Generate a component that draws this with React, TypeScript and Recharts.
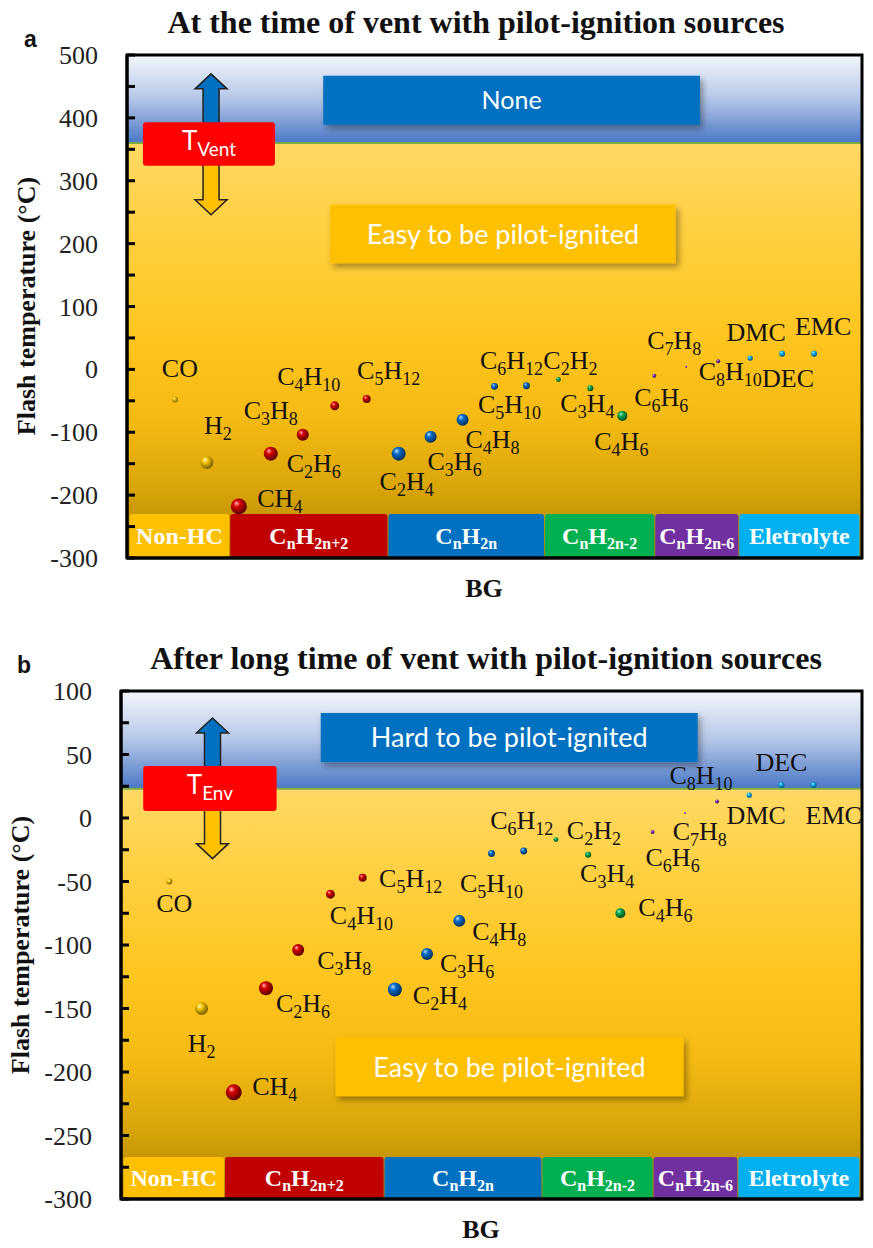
import React from "react";
import {
  ScatterChart,
  Scatter,
  XAxis,
  YAxis,
  ZAxis,
  CartesianGrid,
  ReferenceArea,
} from "recharts";

// battery gases along the BG axis, in plotting order
const species = ["CO", "H2", "CH4", "C2H6", "C3H8", "C4H10", "C5H12", "C2H4", "C3H6", "C4H8", "C5H10", "C6H12", "C2H2", "C3H4", "C4H6", "C6H6", "C7H8", "C8H10", "DMC", "DEC", "EMC"];
const family = ["nonhc", "nonhc", "alkane", "alkane", "alkane", "alkane", "alkane", "alkene", "alkene", "alkene", "alkene", "alkene", "alkyne", "alkyne", "alkyne", "arom", "arom", "arom", "elec", "elec", "elec"];

// flash temperature (°C)
const flashVent = [-48, -148, -218, -134, -104, -58, -47, -134, -107, -80, -27, -26, -16, -30, -74, -10, 4, 13, 18, 25, 25];
const flashLong = [-50, -150, -216, -134, -104, -60, -47, -135, -107, -81, -28, -26, -17, -29, -75, -11, 4, 13, 18, 26, 26];

// bubble size (roughly squared radius)
const bubble = [9, 42, 64, 49, 36, 20, 16, 49, 36, 36, 12, 12, 6, 9, 25, 4, 1, 4, 7, 9, 9];

// family bands under the points
const familyKeys = ["nonhc", "alkane", "alkene", "alkyne", "arom", "elec"];
const familyNames = ["Non-HC", "C{n}H{2n+2}", "C{n}H{2n}", "C{n}H{2n-2}", "C{n}H{2n-6}", "Eletrolyte"];
const familyEdges = [-1.45, 1.7, 6.65, 11.55, 15.0, 17.63, 21.42];

const SERIF = "'Liberation Serif', 'Times New Roman', serif";
const SANS = "Lato, 'Open Sans', sans-serif";
const TICK_GAP = 29;

const famColor: Record<string, string> = {
  nonhc: "#ffc000",
  alkane: "#c00000",
  alkene: "#0070c0",
  alkyne: "#00b050",
  arom: "#7030a0",
  elec: "#00b0f0",
};
const ballStops: Record<string, string[]> = {
  nonhc: ["#fffbe0", "#f2c400", "#7a5a00"],
  alkane: ["#ffb0b0", "#d40000", "#5a0000"],
  alkene: ["#b8dcff", "#0a6cc8", "#00305e"],
  alkyne: ["#b0f5cc", "#00a850", "#004d1e"],
  arom: ["#dcb8ff", "#7a35b0", "#2e0f4e"],
  elec: ["#c8f2ff", "#12b2f0", "#005a80"],
};

const panels = [
  {
    id: "pa",
    top: 0,
    plotTop: 55,
    xAxisH: 66,
    yAxisW: 127,
    right: 11,
    yDomain: [-300, 500],
    tickStep: 50,
    labelStep: 100,
    boundary: 360,
    barTop: -230,
    flash: flashVent,
    boxes: [
      { x1: 4.64, x2: 16.43, y1: 389, y2: 467, fill: "#0070c0", text: "None", size: 25 },
      { x1: 4.86, x2: 15.67, y1: 169, y2: 262, fill: "#ffc000", text: "Easy to be pilot-ignited", size: 27 },
    ],
    arrow: { x: 1.13, top: 470, bottom: 246 },
    tBox: { x1: -1.0, x2: 3.13, y1: 324, y2: 393, text: "T{Vent}" },
    labelAt: {
      CO: [5, -23], H2: [11, -28], CH4: [41, 1], C2H6: [43, 18], C3H8: [-32, -16], C4H10: [-26, -21],
      C5H12: [22, -20], C2H4: [8, 36], C3H6: [24, 33], C4H8: [30, 28], C5H10: [15, 27], C6H12: [-15, -17],
      C2H2: [12, -10], C3H4: [-3, 24], C4H6: [-1, 34], C6H6: [7, 30], C7H8: [-12, -18], C8H10: [12, 19],
      DMC: [6, -17], DEC: [6, 33], EMC: [9, -19],
    } as Record<string, number[]>,
  },
  {
    id: "pb",
    top: 624,
    plotTop: 67,
    xAxisH: 49,
    yAxisW: 121,
    right: 11,
    yDomain: [-300, 100],
    tickStep: 25,
    labelStep: 50,
    boundary: 23,
    barTop: -267,
    flash: flashLong,
    boxes: [
      { x1: 4.7, x2: 16.4, y1: 44, y2: 82.7, fill: "#0070c0", text: "Hard to be pilot-ignited", size: 27 },
      { x1: 5.16, x2: 15.96, y1: -219, y2: -173, fill: "#ffc000", text: "Easy to be pilot-ignited", size: 27 },
    ],
    arrow: { x: 1.34, top: 78.7, bottom: -32 },
    tBox: { x1: -0.81, x2: 3.33, y1: 5.5, y2: 41, text: "T{Env}" },
    labelAt: {
      CO: [5, 30], H2: [0, 43], CH4: [41, 3], C2H6: [37, 24], C3H8: [46, 19], C4H10: [31, 30],
      C5H12: [48, 9], C2H4: [45, 15], C3H6: [40, 18], C4H8: [40, 19], C5H10: [0, 38], C6H12: [-2, -22],
      C2H2: [38, -1], C3H4: [19, 27], C4H6: [45, 3], C6H6: [20, 34], C7H8: [15, 27], C8H10: [-16, -17],
      DMC: [7, 29], DEC: [0, -14], EMC: [20, 39],
    } as Record<string, number[]>,
  },
];

// "C{2}H{6}" -> tspans with subscripts
function formula(src: string, size: number, subSize: number, shift: number) {
  const parts = src.split(/(\{[^}]*\})/).filter((s) => s.length > 0);
  let low = false;
  return parts.map((part, i) => {
    const sub = part[0] === "{";
    let dy = 0;
    if (sub && !low) {
      dy = shift;
      low = true;
    } else if (!sub && low) {
      dy = -shift;
      low = false;
    }
    return (
      <tspan key={i} dy={dy} fontSize={sub ? subSize : size}>
        {sub ? part.slice(1, -1) : part}
      </tspan>
    );
  });
}

const chem = (name: string) => name.replace(/(\d+)/g, "{$1}");

function Panel({ cfg }: { cfg: any }) {
  const [yMin, yMax] = cfg.yDomain;
  const f = (yMax - cfg.boundary) / (yMax - yMin);
  const ticks: number[] = [];
  for (let v = yMin; v <= yMax; v += cfg.tickStep) ticks.push(v);

  const rows = species.map((name, i) => ({ x: i, y: cfg.flash[i], z: bubble[i], name, fam: family[i] }));

  const tick = (props: any) => {
    const { x, y, payload } = props;
    const v = payload.value;
    const ax = x + TICK_GAP;
    return (
      <g>
        <line x1={ax} x2={ax + 8} y1={y} y2={y} stroke="#000" strokeWidth={3} />
        {v % cfg.labelStep === 0 ? (
          <text x={x} y={y + 9} textAnchor="end" fontFamily={SERIF} fontSize={26} fill="#222">
            {v}
          </text>
        ) : null}
      </g>
    );
  };

  const ball = (fam: string) => (props: any) => {
    const { cx, cy, size, payload } = props;
    if (cx == null || cy == null) return <g />;
    const area = typeof size === "number" && size > 0 ? size : payload.z * Math.PI;
    const r = Math.max(1, Math.sqrt(area / Math.PI));
    const [dx, dy] = cfg.labelAt[payload.name] || [0, -14];
    return (
      <g>
        <circle cx={cx} cy={cy} r={r} fill={`url(#${cfg.id}-ball-${fam})`} />
        <text x={cx + dx} y={cy + dy} textAnchor="middle" fontFamily={SERIF} fontSize={26} fill="#111">
          {formula(chem(payload.name), 26, 18, 6)}
        </text>
      </g>
    );
  };

  // blue band: only the green edge along its bottom is drawn
  const bandEdge = (p: any) => (
    <line x1={p.x} x2={p.x + p.width} y1={p.y + p.height} y2={p.y + p.height} stroke="#7dab4a" strokeWidth={2} />
  );

  const textBox = (box: any) => (p: any) => (
    <g>
      <rect x={p.x} y={p.y} width={p.width} height={p.height} fill={box.fill} filter={`url(#${cfg.id}-shadow)`} />
      <text x={p.x + p.width / 2} y={p.y + p.height / 2 + box.size * 0.36} textAnchor="middle" fontFamily={SANS} fontSize={box.size} fill="#fff">
        {box.text}
      </text>
    </g>
  );

  const tBox = (p: any) => (
    <g>
      <rect x={p.x} y={p.y} width={p.width} height={p.height} rx={3} fill="#ff0000" />
      <text x={p.x + p.width / 2} y={p.y + p.height / 2 + 6} textAnchor="middle" fontFamily={SANS} fontSize={26} fill="#fff">
        {formula(cfg.tBox.text, 26, 19, 6)}
      </text>
    </g>
  );

  const arrow = (p: any) => {
    const cx = p.x + p.width / 2;
    const top = p.y;
    const bot = p.y + p.height;
    const mid = top + p.height * ((cfg.arrow.top - cfg.boundary) / (cfg.arrow.top - cfg.arrow.bottom));
    const sw = 8;
    const hw = 16;
    const hl = 15;
    const up = `M${cx},${top} L${cx + hw},${top + hl} L${cx + sw},${top + hl} L${cx + sw},${mid} L${cx - sw},${mid} L${cx - sw},${top + hl} L${cx - hw},${top + hl} Z`;
    const down = `M${cx},${bot} L${cx + hw},${bot - hl} L${cx + sw},${bot - hl} L${cx + sw},${mid} L${cx - sw},${mid} L${cx - sw},${bot - hl} L${cx - hw},${bot - hl} Z`;
    return (
      <g>
        <path d={up} fill="#0070c0" stroke="#222" strokeWidth={1.5} />
        <path d={down} fill="#ffc000" stroke="#222" strokeWidth={1.5} />
      </g>
    );
  };

  const catBox = (i: number) => (p: any) => (
    <g>
      <rect x={p.x} y={p.y} width={p.width} height={p.height} rx={3} fill={famColor[familyKeys[i]]} />
      <text x={p.x + p.width / 2} y={p.y + p.height / 2 + 8} textAnchor="middle" fontFamily={SERIF} fontWeight="bold" fontSize={24} fill="#fff">
        {formula(familyNames[i], 24, 16, 5)}
      </text>
    </g>
  );

  const frame = (p: any) => <rect x={p.x} y={p.y} width={p.width} height={p.height} fill="none" stroke="#000" strokeWidth={3} />;

  return (
    <ScatterChart width={873} height={624} margin={{ top: cfg.plotTop, right: cfg.right, bottom: 0, left: 0 }}>
      <defs>
        <linearGradient id={`${cfg.id}-bg`} x1="0" y1="0" x2="0" y2="1">
          <stop offset={0} stopColor="#f4f7fc" />
          <stop offset={f * 0.5} stopColor="#b4c6e7" />
          <stop offset={f} stopColor="#4a77c6" />
          <stop offset={f} stopColor="#ffd965" />
          <stop offset={f + 0.12} stopColor="#ffd24a" />
          <stop offset={0.55} stopColor="#ffc620" />
          <stop offset={0.72} stopColor="#f5bb12" />
          <stop offset={0.86} stopColor="#d9a509" />
          <stop offset={1} stopColor="#ad8200" />
        </linearGradient>
        {familyKeys.map((k) => (
          <radialGradient key={k} id={`${cfg.id}-ball-${k}`} cx="0.4" cy="0.38" r="0.62" fx="0.35" fy="0.3">
            <stop offset="0" stopColor={ballStops[k][0]} />
            <stop offset="0.35" stopColor={ballStops[k][1]} />
            <stop offset="1" stopColor={ballStops[k][2]} />
          </radialGradient>
        ))}
        <filter id={`${cfg.id}-shadow`} x="-10%" y="-30%" width="125%" height="180%">
          <feDropShadow dx="3" dy="4" stdDeviation="3" floodColor="#000" floodOpacity="0.35" />
        </filter>
      </defs>
      <CartesianGrid horizontal={false} vertical={false} fill={`url(#${cfg.id}-bg)`} fillOpacity={1} stroke="none" />
      <XAxis
        type="number"
        dataKey="x"
        domain={[-1.5, 21.5]}
        tick={false}
        tickLine={false}
        height={cfg.xAxisH}
        axisLine={{ stroke: "#000", strokeWidth: 3 }}
      />
      <YAxis
        type="number"
        dataKey="y"
        domain={cfg.yDomain}
        ticks={ticks}
        interval={0}
        width={cfg.yAxisW}
        tickSize={0}
        tickMargin={TICK_GAP}
        tick={tick}
        axisLine={{ stroke: "#000", strokeWidth: 3 }}
      />
      <ZAxis type="number" dataKey="z" domain={[0, 64]} range={[0, 64 * Math.PI]} />
      <ReferenceArea x1={-1.5} x2={21.5} y1={cfg.boundary} y2={yMax} shape={bandEdge} />
      {familyKeys.map((k, i) => (
        <ReferenceArea key={k} x1={familyEdges[i] + 0.03} x2={familyEdges[i + 1]} y1={yMin} y2={cfg.barTop} shape={catBox(i)} />
      ))}
      {cfg.boxes.map((b: any) => (
        <ReferenceArea key={b.text} x1={b.x1} x2={b.x2} y1={b.y1} y2={b.y2} shape={textBox(b)} />
      ))}
      <ReferenceArea x1={cfg.arrow.x - 0.6} x2={cfg.arrow.x + 0.6} y1={cfg.arrow.bottom} y2={cfg.arrow.top} shape={arrow} />
      <ReferenceArea x1={cfg.tBox.x1} x2={cfg.tBox.x2} y1={cfg.tBox.y1} y2={cfg.tBox.y2} shape={tBox} />
      {familyKeys.map((k) => (
        <Scatter key={k} data={rows.filter((r) => r.fam === k)} shape={ball(k)} isAnimationActive={false} />
      ))}
      <ReferenceArea x1={-1.5} x2={21.5} y1={yMin} y2={yMax} shape={frame} />
    </ScatterChart>
  );
}

export default function App() {
  return (
    <div style={{ position: "absolute", left: 0, top: 0, width: 873, height: 1248, background: "#fff" }}>
      {panels.map((cfg) => (
        <div key={cfg.id} style={{ position: "absolute", left: 0, top: cfg.top }}>
          <Panel cfg={cfg} />
        </div>
      ))}
      <svg width={873} height={1248} style={{ position: "absolute", left: 0, top: 0, pointerEvents: "none" }}>
        <text x={24} y={47} fontFamily="'Liberation Sans', Arial, sans-serif" fontWeight="bold" fontSize={23} fill="#111">a</text>
        <text x={476} y={33} textAnchor="middle" fontFamily={SERIF} fontWeight="bold" fontSize={32} fill="#111">
          At the time of vent with pilot-ignition sources
        </text>
        <text x={17} y={673} fontFamily="'Liberation Sans', Arial, sans-serif" fontWeight="bold" fontSize={23} fill="#111">b</text>
        <text x={486} y={669} textAnchor="middle" fontFamily={SERIF} fontWeight="bold" fontSize={32} fill="#111">
          After long time of vent with pilot-ignition sources
        </text>
        <text transform="translate(35,306) rotate(-90)" textAnchor="middle" fontFamily={SERIF} fontWeight="bold" fontSize={26} fill="#111">
          Flash temperature (°C)
        </text>
        <text transform="translate(29,945) rotate(-90)" textAnchor="middle" fontFamily={SERIF} fontWeight="bold" fontSize={26} fill="#111">
          Flash temperature (°C)
        </text>
        <text x={484} y={597} textAnchor="middle" fontFamily={SERIF} fontWeight="bold" fontSize={26} fill="#111">BG</text>
        <text x={481} y={1238} textAnchor="middle" fontFamily={SERIF} fontWeight="bold" fontSize={26} fill="#111">BG</text>
      </svg>
    </div>
  );
}
